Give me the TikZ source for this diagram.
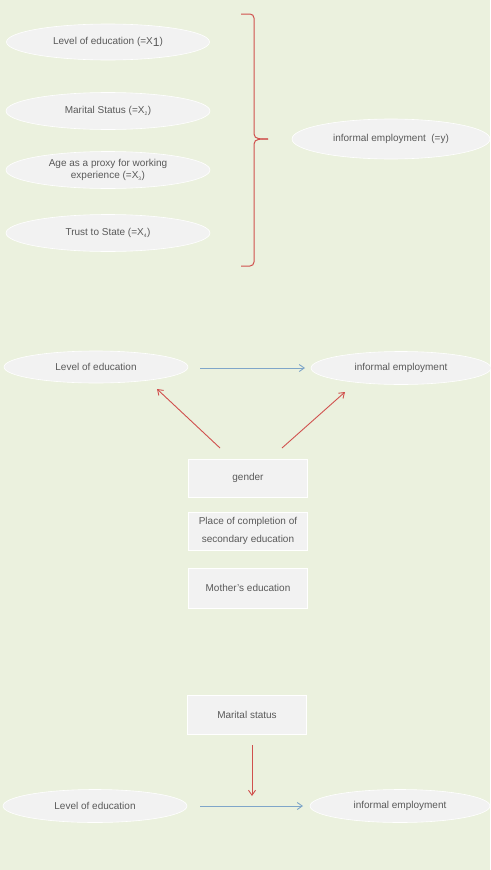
\documentclass[tikz,border=0pt]{standalone}
\usepackage{fontspec}
\setmainfont{Liberation Sans}
\usetikzlibrary{arrows.meta,shapes.geometric}
\definecolor{bg}{HTML}{EBF1DE}
\definecolor{shapefill}{HTML}{F2F2F2}
\definecolor{txt}{HTML}{595959}
\definecolor{redarrow}{HTML}{D0504D}
\definecolor{bluearrow}{HTML}{7FA6C9}
\tikzset{
  oval/.style={ellipse, fill=shapefill, draw=white, line width=0.6pt, text=txt, font=\fontsize{10}{12}\selectfont, inner sep=0pt, align=center},
  rbox/.style={rectangle, fill=shapefill, draw=white, line width=0.8pt, text=txt, font=\fontsize{10}{12}\selectfont, minimum width=119pt, align=center},
  redarr/.style={draw=redarrow, line width=0.9pt, -{Straight Barb[length=5pt,width=7pt]}},
  bluearr/.style={draw=bluearrow, line width=0.9pt, -{Straight Barb[length=5pt,width=7pt]}},
  bracestyle/.style={draw=redarrow, line width=1pt, line join=round}
}
\begin{document}
\begin{tikzpicture}[x=1pt,y=-1pt]
\fill[bg] (0,0) rectangle (490,870);
\useasboundingbox (0,0) rectangle (490,870);

% top section
\node[oval, minimum width=203pt, minimum height=36pt] (x1) at (108,42) {Level of education (=X\raisebox{-2.5pt}{\fontsize{12}{12}\selectfont 1})};
\node[oval, minimum width=204pt, minimum height=37pt] (x2) at (108,111) {Marital Status (=X\textsubscript{\tiny 2})};
\node[oval, minimum width=204pt, minimum height=37pt] (x3) at (108,170) {Age as a proxy for working\\experience (=X\textsubscript{\tiny 3})};
\node[oval, minimum width=204pt, minimum height=37pt] (x4) at (108,233) {Trust to State (=X\textsubscript{\tiny 4})};
\node[oval, minimum width=198pt, minimum height=40pt] (y) at (391,139) {informal employment\ \ (=y)};

\coordinate (bt) at (241,14);
\coordinate (bb) at (241,266);
\coordinate (btip) at (268,139);
\draw[bracestyle] (bt) -- (250,14) to[out=0,in=90] (254,18) -- (254,134) to[out=-90,in=180] (btip);
\draw[bracestyle] (bb) -- (250,266) to[out=0,in=-90] (254,262) -- (254,144) to[out=90,in=180] (btip);

% middle section
\node[oval, minimum width=184pt, minimum height=32pt] (le2) at (96,367) {Level of education};
\node[oval, minimum width=180pt, minimum height=33pt] (ie2) at (401,368) {informal employment};
\coordinate (b2s) at (200,368);
\coordinate (b2e) at (305,368);
\draw[bluearr] (b2s) -- (b2e);

\node[rbox, minimum height=38pt] (gender) at (248,478) {gender};
\node[rbox, minimum height=38pt] (place) at (248,531) {Place of completion of\\[6pt]secondary education};
\node[rbox, minimum height=40pt] (mother) at (248,588) {Mother's education};

\coordinate (r1s) at (220,448);
\coordinate (r1e) at (157,389);
\coordinate (r2s) at (282,448);
\coordinate (r2e) at (345,392);
\draw[redarr] (r1s) -- (r1e);
\draw[redarr] (r2s) -- (r2e);

% bottom section
\node[rbox, minimum height=39pt] (marital) at (247,715) {Marital status};
\node[oval, minimum width=184pt, minimum height=33pt] (le3) at (95,806) {Level of education};
\node[oval, minimum width=180pt, minimum height=33pt] (ie3) at (400,806) {informal employment};
\coordinate (b3s) at (200,806);
\coordinate (b3e) at (303,806);
\draw[bluearr] (b3s) -- (b3e);
\coordinate (r3s) at (252,745);
\coordinate (r3e) at (252,796);
\draw[redarr] (r3s) -- (r3e);
\end{tikzpicture}
\end{document}
